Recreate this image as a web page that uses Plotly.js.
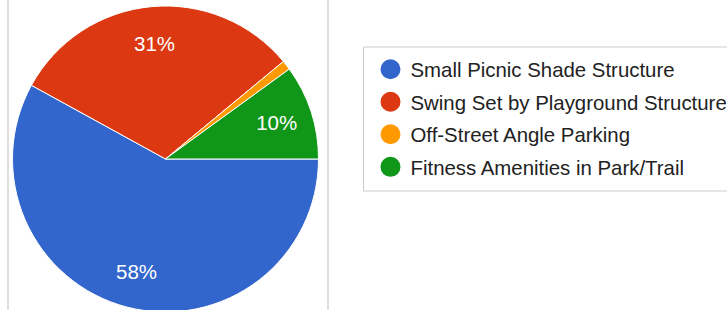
<!DOCTYPE html>
<html>
<head>
<meta charset="utf-8">
<script src="https://cdn.plot.ly/plotly-3.0.1.min.js"></script>
<style>
html, body { margin: 0; padding: 0; overflow: hidden; background: #fff; }
#chart { width: 760px; height: 318px; }
</style>
</head>
<body>
<div id="chart"></div>
<script>
// Data
const categories = [
  "Small Picnic Shade Structure",
  "Swing Set by Playground Structure",
  "Off-Street Angle Parking",
  "Fitness Amenities in Park/Trail"
];
const values = [58, 31, 1, 10];
const colors = ["#3366cc", "#dc3912", "#ff9900", "#109618"];

const W = 760, H = 318;
const px = v => v / W;
const py = v => 1 - v / H;
const FONT = "Arial, 'Liberation Sans', sans-serif";
const pieDomain = { x: [px(12.5), px(318.5)], y: [py(312), py(6)] };

// Filled pie (no text)
const pieTrace = {
  type: "pie",
  labels: categories,
  values: values,
  sort: false,
  direction: "clockwise",
  rotation: 90,
  marker: { colors: colors, line: { color: "#ffffff", width: 1 } },
  textinfo: "none",
  hoverinfo: "label+percent",
  showlegend: false,
  domain: pieDomain
};

// Transparent ring carrying the percentage labels (placed mid-ring, ~0.75 R)
const labelTrace = {
  type: "pie",
  labels: categories,
  values: values,
  sort: false,
  direction: "clockwise",
  rotation: 90,
  hole: 0.52,
  marker: { colors: categories.map(() => "rgba(0,0,0,0)"), line: { width: 0 } },
  texttemplate: values.map(v => v >= 5 ? "%{percent:.0%}" : ""),
  textposition: "inside",
  insidetextorientation: "horizontal",
  textfont: { family: FONT, size: 20.5, color: "#ffffff" },
  hoverinfo: "skip",
  showlegend: false,
  domain: pieDomain
};

const legendTraces = categories.map((c, i) => ({
  type: "scatter",
  mode: "markers",
  x: [null], y: [null],
  name: c,
  legendgroup: "g" + i,
  marker: { color: colors[i], size: 16, line: { color: colors[i], width: 4 } },
  showlegend: true,
  hoverinfo: "skip"
}));

const layout = {
  width: W, height: H,
  margin: { l: 0, r: 0, t: 0, b: 0, autoexpand: false },
  paper_bgcolor: "#ffffff",
  plot_bgcolor: "rgba(0,0,0,0)",
  xaxis: { visible: false },
  yaxis: { visible: false },
  showlegend: true,
  legend: {
    x: px(370.5), y: py(49.5), xanchor: "left", yanchor: "top",
    bgcolor: "rgba(0,0,0,0)", borderwidth: 0,
    traceorder: "grouped", tracegroupgap: 3,
    font: { family: FONT, size: 20.4, color: "#222222" }
  },
  shapes: [
    { type: "line", xref: "paper", yref: "paper", x0: px(8), x1: px(8), y0: 0, y1: 1,
      line: { color: "#bdbdbd", width: 1 } },
    { type: "line", xref: "paper", yref: "paper", x0: px(328), x1: px(328), y0: 0, y1: 1,
      line: { color: "#bdbdbd", width: 1 } },
    { type: "rect", xref: "paper", yref: "paper", x0: px(363.5), x1: px(800), y0: py(191), y1: py(47),
      line: { color: "#cccccc", width: 1 }, fillcolor: "rgba(0,0,0,0)" }
  ]
};

Plotly.newPlot("chart", [pieTrace, labelTrace].concat(legendTraces), layout, { displayModeBar: false, staticPlot: true });
</script>
</body>
</html>
